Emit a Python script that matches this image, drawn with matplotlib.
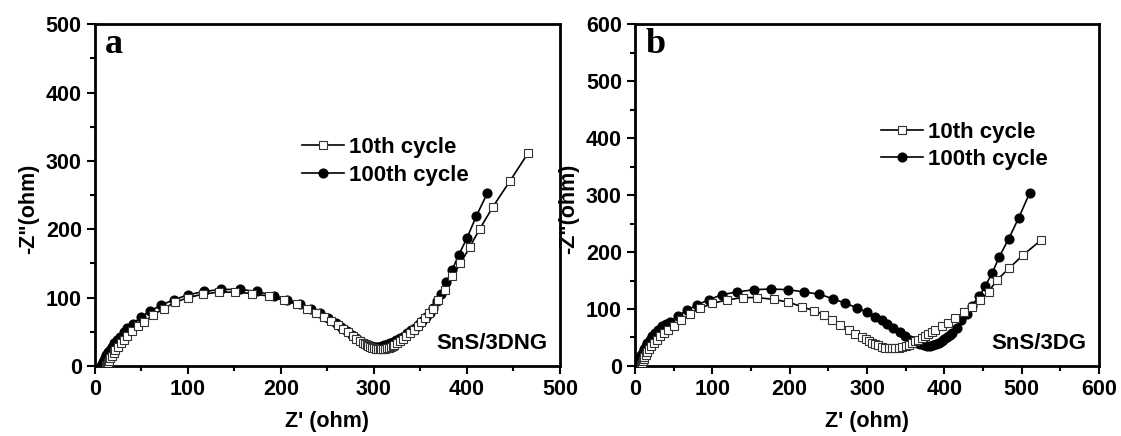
import matplotlib
matplotlib.use('Agg')
import matplotlib.pyplot as plt
from matplotlib.ticker import MultipleLocator

plt.rcParams['font.family'] = ['Liberation Sans', 'DejaVu Sans']
plt.rcParams['font.weight'] = 'bold'

# panel a: SnS/3DNG
a10_x = [12, 13, 14, 15, 16, 18, 20, 22, 25, 28, 31, 35, 40, 46, 53, 62, 74, 86, 100, 116,
         133, 151, 169, 187, 203, 217, 228, 238, 246, 254, 261, 267, 272, 277, 281, 285,
         288, 290, 292, 294, 296, 298, 300, 302, 304, 306, 308, 310, 312, 314, 316, 318,
         320, 322, 325, 328, 331, 335, 339, 343, 347, 351, 355, 359, 363, 369, 376, 384,
         393, 403, 414, 428, 446, 466]
a10_y = [0, 2, 5, 8, 11, 15, 19, 23, 28, 33, 38, 44, 51, 58, 65, 74, 84, 93, 100, 105,
         108, 108, 106, 102, 96, 90, 84, 78, 72, 66, 60, 54, 49, 44, 40, 36,
         34, 32, 30, 29, 28, 27, 26, 25, 25, 25, 25, 25, 25, 26, 27, 28,
         29, 31, 34, 37, 40, 44, 48, 53, 58, 64, 70, 77, 84, 97, 111, 131,
         150, 174, 201, 233, 270, 312]

a100_x = [7, 8, 9, 10, 11, 12, 14, 16, 18, 21, 24, 27, 31, 35, 41, 50, 59, 71, 85, 100,
          117, 136, 156, 174, 192, 207, 221, 232, 242, 251, 259, 265, 271, 276, 281, 285,
          288, 291, 293, 295, 297, 299, 301, 303, 305, 307, 309, 311, 313, 315, 317, 320,
          324, 328, 332, 336, 340, 344, 348, 352, 356, 360, 364, 368, 372, 378, 384, 391,
          400, 410, 422]
a100_y = [0, 3, 6, 9, 12, 16, 20, 24, 28, 33, 38, 43, 49, 55, 62, 72, 80, 89, 97, 104,
          109, 112, 112, 109, 103, 97, 90, 84, 77, 70, 63, 57, 51, 46, 41, 37,
          34, 32, 31, 30, 29, 28, 28, 28, 28, 28, 29, 30, 31, 32, 33, 35,
          38, 41, 44, 48, 52, 56, 61, 66, 72, 78, 85, 95, 106, 123, 140, 162,
          187, 219, 253]

# panel b: SnS/3DG
b10_x = [8, 9, 10, 11, 12, 14, 16, 18, 21, 24, 28, 32, 37, 43, 50, 60, 71, 84, 100, 119,
         139, 158, 179, 198, 216, 231, 244, 254, 265, 276, 285, 293, 298, 302, 306, 310,
         314, 319, 323, 328, 332, 336, 341, 345, 350, 354, 358, 362, 366, 371, 375, 379,
         384, 388, 397, 405, 414, 425, 435, 446, 457, 468, 484, 501, 525]
b10_y = [0, 4, 8, 12, 16, 20, 25, 30, 35, 40, 46, 52, 58, 64, 70, 80, 92, 101, 110, 116,
         120, 120, 117, 112, 104, 97, 90, 81, 72, 63, 56, 50, 47, 44, 41, 39,
         36, 34, 32, 31, 31, 31, 32, 33, 35, 37, 40, 43, 46, 49, 52, 56,
         59, 63, 70, 76, 84, 94, 104, 116, 130, 151, 172, 194, 221]

b100_x = [3, 4, 5, 6, 7, 8, 10, 12, 14, 16, 19, 22, 26, 30, 35, 40, 45, 56, 67, 80,
          95, 112, 132, 154, 176, 198, 218, 238, 256, 272, 287, 300, 310, 319, 326, 334,
          342, 349, 356, 360, 364, 368, 373, 377, 381, 385, 389, 393, 397, 400, 403, 407,
          410, 416, 422, 429, 435, 445, 453, 462, 471, 483, 496, 510]
b100_y = [0, 4, 8, 12, 16, 20, 25, 30, 35, 40, 46, 52, 58, 64, 70, 74, 78, 88, 98, 107,
          116, 125, 130, 134, 135, 134, 130, 126, 118, 110, 102, 94, 86, 80, 73, 66,
          59, 52, 46, 43, 40, 38, 36, 35, 35, 36, 39, 41, 44, 47, 50, 54,
          58, 67, 80, 92, 106, 122, 141, 164, 192, 223, 260, 303]

labels = ['10th cycle', '100th cycle']

fig = plt.figure(figsize=(11.21, 4.36), dpi=100)
ax_a = fig.add_axes([0.0847, 0.1606, 0.4148, 0.784])
ax_b = fig.add_axes([0.5665, 0.1606, 0.4140, 0.784])


def draw_panel(ax, x10, y10, x100, y100, lim, letter, sample, leg_pos):
    ax.plot(x10, y10, '-s', color='black', lw=1.2, ms=6, mfc='white', mec='#333333',
            mew=0.8, label=labels[0], zorder=3)
    ax.plot(x100, y100, '-o', color='black', lw=1.2, ms=6.3, mfc='black', mec='black',
            label=labels[1], zorder=2)
    ax.set_xlim(0, lim)
    ax.set_ylim(0, lim)
    ax.xaxis.set_major_locator(MultipleLocator(100))
    ax.xaxis.set_minor_locator(MultipleLocator(50))
    ax.yaxis.set_major_locator(MultipleLocator(100))
    ax.yaxis.set_minor_locator(MultipleLocator(50))
    ax.tick_params(which='major', direction='out', length=6, width=1.5, labelsize=15.5)
    ax.tick_params(which='minor', direction='out', length=3.5, width=1.5)
    for s in ax.spines.values():
        s.set_linewidth(2)
    ax.set_xlabel("Z' (ohm)", fontsize=15.5, fontweight='bold', labelpad=8)
    ax.set_ylabel('-Z"(ohm)', fontsize=15.5, fontweight='bold', labelpad=5)
    ax.yaxis.label.set_y(0.46)
    ax.text(0.022, 0.94, letter, transform=ax.transAxes, fontsize=26,
            fontweight='bold', family='Liberation Serif', ha='left', va='center')
    ax.text(0.973, 0.067, sample, transform=ax.transAxes, fontsize=16,
            fontweight='bold', ha='right', va='center')
    ax.legend(loc='upper left', bbox_to_anchor=leg_pos, frameon=False, fontsize=16,
              borderpad=0, borderaxespad=0, labelspacing=0.3, handlelength=1.9,
              handletextpad=0.2, numpoints=1)


draw_panel(ax_a, a10_x, a10_y, a100_x, a100_y, 500, 'a', 'SnS/3DNG', (0.445, 0.67))
draw_panel(ax_b, b10_x, b10_y, b100_x, b100_y, 600, 'b', 'SnS/3DG', (0.53, 0.715))

fig.savefig('out.png', dpi=100)
